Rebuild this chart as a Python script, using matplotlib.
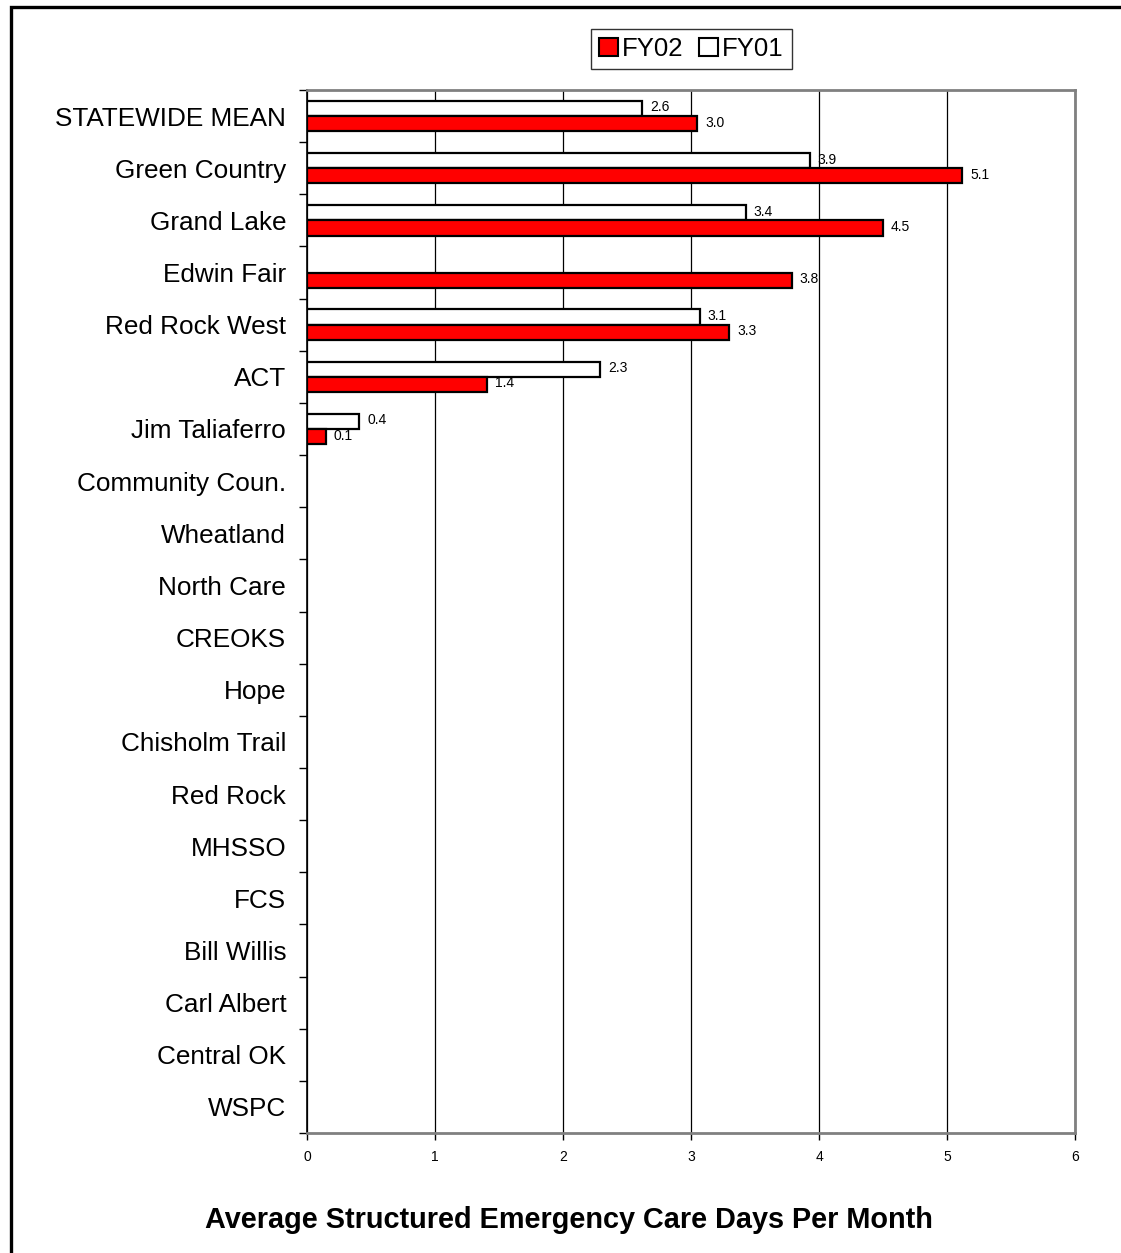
import numpy as np
import matplotlib
matplotlib.use("Agg")
import matplotlib.pyplot as plt
from matplotlib.patches import Rectangle, Patch

plt.rcParams['font.family'] = ['Liberation Sans', 'DejaVu Sans']

categories = ["STATEWIDE MEAN", "Green Country", "Grand Lake", "Edwin Fair",
              "Red Rock West", "ACT", "Jim Taliaferro", "Community Coun.",
              "Wheatland", "North Care", "CREOKS", "Hope", "Chisholm Trail",
              "Red Rock", "MHSSO", "FCS", "Bill Willis", "Carl Albert",
              "Central OK", "WSPC"]
fy02 = [3.05, 5.12, 4.5, 3.79, 3.30, 1.41, 0.15] + [np.nan] * 13
fy01 = [2.62, 3.93, 3.43, np.nan, 3.07, 2.29, 0.41] + [np.nan] * 13
fy02_labels = ["3.0", "5.1", "4.5", "3.8", "3.3", "1.4", "0.1"]
fy01_labels = ["2.6", "3.9", "3.4", "", "3.1", "2.3", "0.4"]
xticks = [0, 1, 2, 3, 4, 5, 6]
title = "Average Structured Emergency Care Days Per Month"

W, H = 1121, 1253
fig = plt.figure(figsize=(W / 100, H / 100), dpi=100)

# outer frame (right/bottom edges fall outside the image)
fig.patches.append(Rectangle((10.5 / W, -0.05), 1.2, 1 - 6.5 / H + 0.05,
                             transform=fig.transFigure, fill=False,
                             edgecolor='black', linewidth=2.4))

ax = fig.add_axes([307 / W, 1 - 1133 / H, (1075 - 307) / W, (1133 - 90) / H])

n = len(categories)
y = np.arange(n)
h = 0.29
off = 0.147
ax.barh(y - off, fy01, height=h, color='white', edgecolor='black', linewidth=1.6,
        label='FY01', zorder=3)
ax.barh(y + off, fy02, height=h, color='#FF0000', edgecolor='black', linewidth=1.6,
        label='FY02', zorder=3)

for i in range(n):
    if i < len(fy01_labels) and fy01_labels[i] and not np.isnan(fy01[i]):
        ax.text(fy01[i] + 0.06, y[i] - off - 0.02, fy01_labels[i], fontsize=10,
                va='center', ha='left', zorder=4)
    if i < len(fy02_labels) and fy02_labels[i] and not np.isnan(fy02[i]):
        ax.text(fy02[i] + 0.06, y[i] + off - 0.02, fy02_labels[i], fontsize=10,
                va='center', ha='left', zorder=4)

ax.set_xlim(0, 6)
ax.set_ylim(n - 0.5, -0.5)
ax.set_xticks(xticks)
ax.set_xticklabels([str(t) for t in xticks], fontsize=10)
ax.tick_params(axis='x', length=5, width=1, pad=7, direction='out')
ax.xaxis.grid(True, color='black', linewidth=0.9, zorder=0)
ax.set_axisbelow(True)

ax.set_yticks(y)
ax.set_yticklabels(categories, fontsize=18.8)
ax.tick_params(axis='y', which='major', length=0, pad=15)
ax.set_yticks(np.arange(-0.5, n, 1.0), minor=True)
ax.tick_params(axis='y', which='minor', length=6, width=1, direction='out')

for s in ['top', 'right']:
    ax.spines[s].set_color('#808080')
    ax.spines[s].set_linewidth(2)
ax.spines['left'].set_color('black')
ax.spines['left'].set_linewidth(1.2)
ax.spines['bottom'].set_color('#808080')
ax.spines['bottom'].set_linewidth(2)

handles = [Patch(facecolor='#FF0000', edgecolor='black', linewidth=1.5, label='FY02'),
           Patch(facecolor='white', edgecolor='black', linewidth=1.5, label='FY01')]
leg = fig.legend(handles=handles, loc='center', bbox_to_anchor=(691.5 / W, 1 - 49 / H),
                 ncol=2, fontsize=18.5, frameon=True, fancybox=False,
                 edgecolor='black', handlelength=0.75, handleheight=0.75,
                 handletextpad=0.15, columnspacing=0.6, borderpad=0.3,
                 borderaxespad=0)
leg.get_frame().set_linewidth(1.0)

fig.text(568.5 / W, 1 - 1220 / H, title, ha='center', va='center',
         fontsize=20.8, fontweight='bold')

fig.savefig('out.png', dpi=100, facecolor='white')
